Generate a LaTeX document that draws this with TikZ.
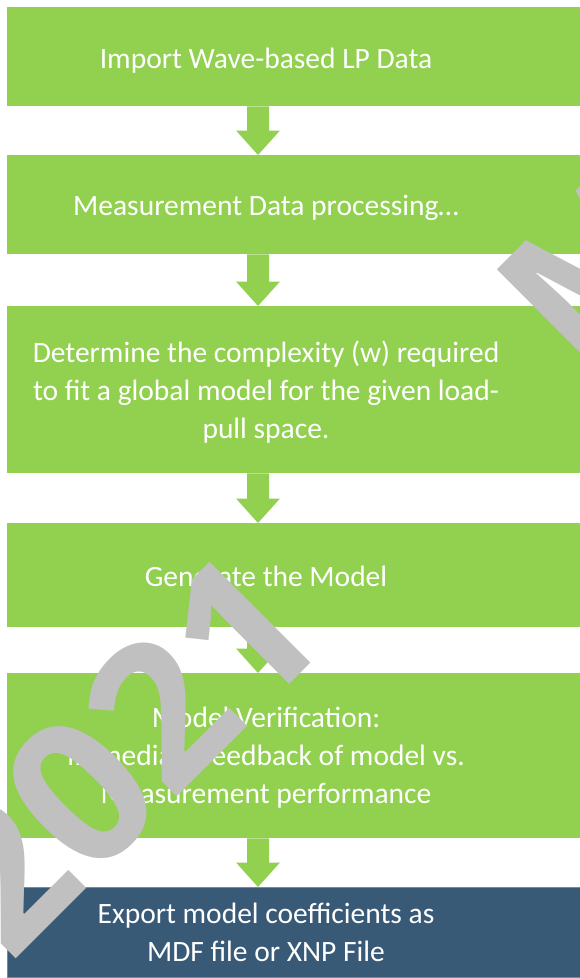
\documentclass[tikz,border=0pt]{standalone}
\usepackage{fontspec}
\setmainfont{Carlito}
\newfontfamily\stampfont{Open Sans}
\usetikzlibrary{calc}
\definecolor{flowgreen}{HTML}{92D050}
\definecolor{exportblue}{HTML}{385A77}
\definecolor{exportedge}{HTML}{5B8FC7}
\definecolor{stampgray}{HTML}{C0C0C0}

% block arrow from the bottom of one step to the top of the next
\newcommand\flowarrow[2]{%
  \fill[flowgreen] let \p1=(#1.south west), \p2=(#2.north west) in
    (\x1+240pt,\y1) -- (\x1+262pt,\y1) -- (\x1+262pt,\y2+24.5pt)
    -- (\x1+273pt,\y2+24.5pt) -- (\x1+251pt,\y2) -- (\x1+229pt,\y2+24.5pt)
    -- (\x1+240pt,\y2+24.5pt) -- cycle;}

\begin{document}
\begin{tikzpicture}[x=1pt,y=-1pt,
  stepbox/.style={fill=flowgreen, draw=none, inner sep=0pt,
    minimum width=573pt, anchor=north west},
  exportbox/.style={stepbox, fill=exportblue, draw=exportedge, line width=1pt},
  steptext/.style={text=white, font=\fontsize{29.5}{38}\selectfont,
    align=center, inner sep=0pt},
  stamp/.style={text=stampgray, font=\stampfont\bfseries\fontsize{200}{200}\selectfont,
    rotate=45, inner sep=0pt}]
\useasboundingbox (0,0) rectangle (580,978);
\clip (0,0) rectangle (580,978);

% process steps
\node[stepbox, minimum height=99pt]  (b1) at (7,7)   {};
\node[stepbox, minimum height=99pt]  (b2) at (7,155) {};
\node[stepbox, minimum height=167pt] (b3) at (7,306) {};
\node[stepbox, minimum height=104pt] (b4) at (7,523) {};
\node[stepbox, minimum height=165pt] (b5) at (7,673) {};
\node[exportbox, minimum height=90pt] (b6) at (7,887) {};

\node[steptext] (t1) at (266,60.7)  {\strut Import Wave-based LP Data\strut};
\node[steptext] (t2) at (266,207.4) {\strut Measurement Data processing…\strut};
\node[steptext] (t3) at (266,392.7) {\strut Determine the complexity (w) required\\
  to fit a global model for the given load-\\pull space.\strut};
\node[steptext] (t4) at (266,578.4) {\strut Generate the Model\strut};
\node[steptext] (t5) at (266,757.4) {\strut Model Verification:\\
  Immediate feedback of model vs.\\Measurement performance\strut};
\node[steptext] (t6) at (266,934.9) {\strut Export model coefficients as\\
  MDF file or XNP File\strut};

% connectors
\flowarrow{b1}{b2}
\flowarrow{b2}{b3}
\flowarrow{b3}{b4}
\flowarrow{b4}{b5}
\flowarrow{b5}{b6}

% year stamp across the sheet
\node[stamp] (w1) at (121,752) {2021};
\node[stamp, anchor=north west] (w2) at (484,283) {M};
\end{tikzpicture}
\end{document}
